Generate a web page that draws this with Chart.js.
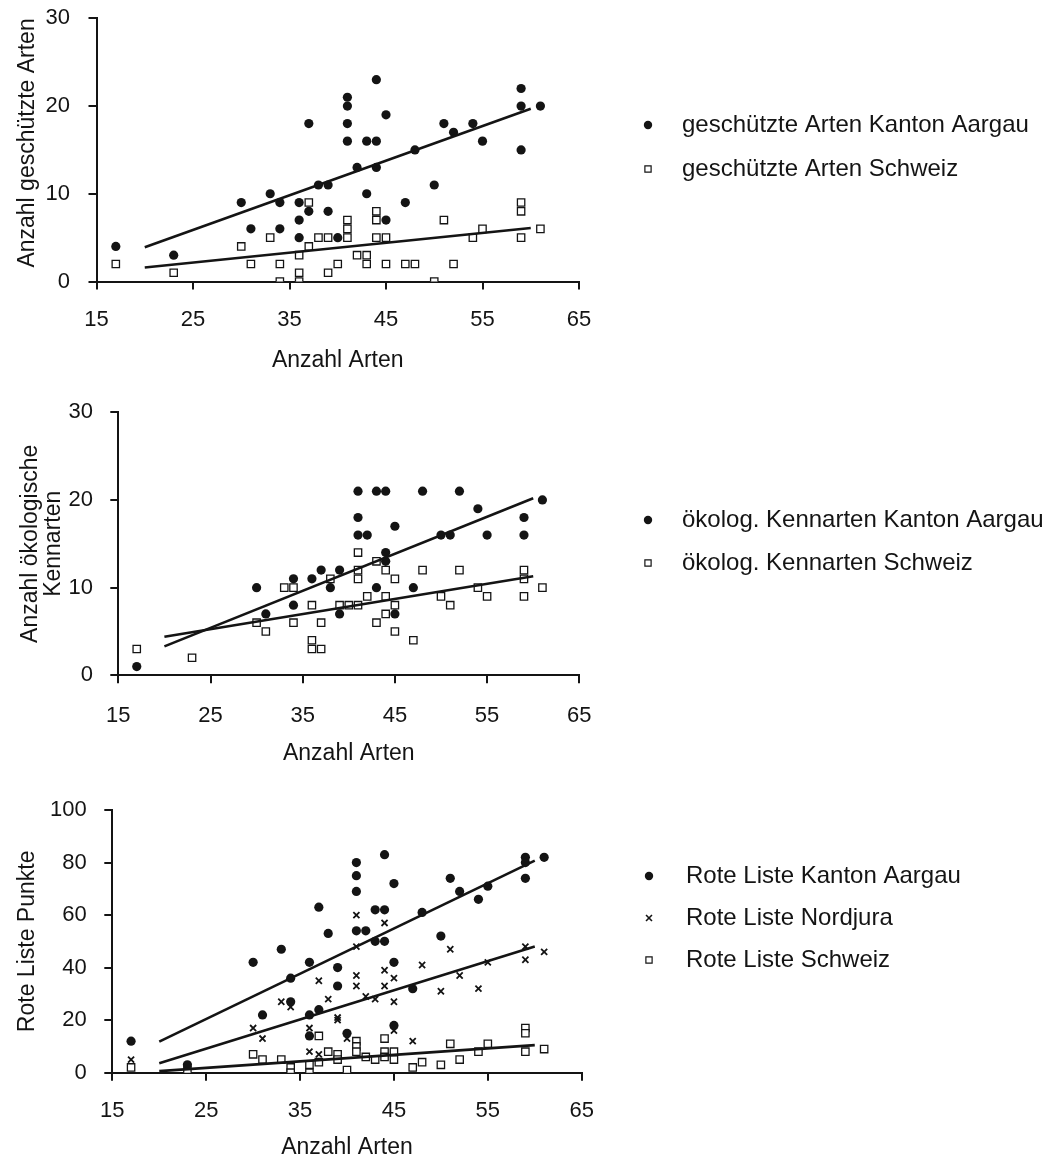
<!DOCTYPE html>
<html><head><meta charset="utf-8">
<script src="https://cdn.jsdelivr.net/npm/chart.js@4.4.0/dist/chart.umd.min.js"></script>
<style>
html,body{margin:0;padding:0;background:#fff;width:1048px;height:1166px;overflow:hidden}
canvas{position:absolute;left:0}
#c1{top:0}#c2{top:390px}#c3{top:780px}
</style></head><body>
<canvas id="c1" width="1048" height="385"></canvas>
<canvas id="c2" width="1048" height="385"></canvas>
<canvas id="c3" width="1048" height="386"></canvas>
<script>
// ---- tick labels ----
const xTicks = [15, 25, 35, 45, 55, 65];
const yTicksArten = [0, 10, 20, 30];
const yTicksPunkte = [0, 20, 40, 60, 80, 100];

// ---- chart 1: geschützte Arten ----
const geschAGx = [17,23,30,31,33,34,34,36,36,36,37,37,38,39,39,40,41,41,41,41,42,43,43,44,44,44,45,45,47,48,50,51,52,54,55,59,59,59,61];
const geschAGy = [4,3,9,6,10,9,6,9,7,5,18,8,11,11,8,5,21,20,18,16,13,16,10,23,16,13,19,7,9,15,11,18,17,18,16,22,20,15,20];
const geschCHx = [17,23,30,31,33,34,34,36,36,36,37,37,38,39,39,40,41,41,41,42,43,43,44,44,44,45,45,47,48,50,51,52,54,55,59,59,59,61];
const geschCHy = [2,1,4,2,5,2,0,3,1,0,9,4,5,5,1,2,7,6,5,3,3,2,8,7,5,5,2,2,2,0,7,2,5,6,9,8,5,6];
const fitX = [20, 60];
const fitGeschAGy = [3.9, 19.7];
const fitGeschCHy = [1.6, 6.1];

// ---- chart 2: ökologische Kennarten ----
const oekoAGx = [17,30,31,34,34,36,37,38,39,39,41,41,41,42,43,43,44,44,44,45,45,47,48,50,51,52,54,55,59,59,61];
const oekoAGy = [1,10,7,11,8,11,12,10,12,7,21,18,16,16,21,10,21,14,13,17,7,10,21,16,16,21,19,16,18,16,20];
const oekoCHx = [17,23,30,31,33,34,34,36,36,36,37,37,38,39,40,41,41,41,41,42,43,43,44,44,44,45,45,45,47,48,50,51,52,54,55,59,59,59,61];
const oekoCHy = [3,2,6,5,10,10,6,8,4,3,3,6,11,8,8,14,12,11,8,9,13,6,12,9,7,11,8,5,4,12,9,8,12,10,9,12,11,9,10];
const fitOekoAGy = [3.3, 20.2];
const fitOekoCHy = [4.4, 11.3];

// ---- chart 3: Rote Liste Punkte ----
const rlAGx = [17,23,30,31,33,34,34,36,36,36,37,37,38,39,39,40,41,41,41,41,42,43,43,44,44,44,45,45,45,47,48,50,51,52,54,55,59,59,59,61];
const rlAGy = [12,3,42,22,47,36,27,42,22,14,63,24,53,40,33,15,80,75,69,54,54,62,50,83,62,50,72,42,18,32,61,52,74,69,66,71,82,80,74,82];
const rlNJx = [17,30,31,33,34,36,36,37,37,38,39,39,40,41,41,41,41,42,43,44,44,44,45,45,45,47,48,50,51,52,54,55,59,59,61];
const rlNJy = [5,17,13,27,25,17,8,35,7,28,21,20,13,60,48,37,33,29,28,57,39,33,36,27,16,12,41,31,47,37,32,42,48,43,46];
const rlCHx = [17,23,30,31,33,34,34,36,36,37,37,38,39,39,40,41,41,41,42,43,44,44,44,45,45,47,48,50,51,52,54,55,59,59,59,61];
const rlCHy = [2,1,7,5,5,2,0,3,0,14,4,8,7,5,1,12,10,8,6,5,13,8,6,8,5,2,4,3,11,5,8,11,17,15,8,9];
const fitRLAGy = [11.8, 80.7];
const fitRLNJy = [3.6, 48.0];
const fitRLCHy = [0.6, 10.5];

// ---- styling ----
const INK = '#141414';
const FONT = "'Liberation Sans', Arial, Helvetica, sans-serif";
Chart.defaults.color = INK;

function pts(xs, ys) { return xs.map((x, i) => ({x: x, y: ys[i]})); }
const markerStyles = {
  dot:    {pointStyle: 'circle',   pointRadius: 4.6, backgroundColor: INK,    borderColor: INK, borderWidth: 0},
  square: {pointStyle: 'rect',     pointRadius: 5.2, backgroundColor: '#fff', borderColor: INK, borderWidth: 1.3},
  cross:  {pointStyle: 'crossRot', pointRadius: 4.3, backgroundColor: INK,    borderColor: INK, borderWidth: 1.8}
};
function series(label, xs, ys, kind) {
  const s = markerStyles[kind];
  return Object.assign({label: label, data: pts(xs, ys), showLine: false, xAxisID: 'x', yAxisID: 'y',
    pointHoverRadius: s.pointRadius}, s);
}
function fitLine(label, xs, ys) {
  return {label: label, fitLine: true, data: pts(xs, ys), showLine: true, pointRadius: 0, pointHoverRadius: 0,
    borderColor: INK, backgroundColor: INK, borderWidth: 2.6, order: -1, xAxisID: 'x', yAxisID: 'y', tension: 0};
}

// small legend symbols (drawn with Chart.js' own point helper)
function legendIcon(ps, r, lw, fill) {
  const c = document.createElement('canvas');
  c.width = 14; c.height = 14;
  const ctx = c.getContext('2d');
  ctx.fillStyle = fill; ctx.strokeStyle = INK; ctx.lineWidth = lw;
  Chart.helpers.drawPoint(ctx, {pointStyle: ps, radius: r, borderWidth: lw, rotation: 0}, 7, 7);
  return c;
}
const legendIcons = {
  circle: legendIcon('circle', 4.2, 0, INK),
  rect: legendIcon('rect', 4.4, 1.2, '#fff'),
  crossRot: legendIcon('crossRot', 4.2, 1.6, INK)
};

// widen the legend clip box to the canvas edge so long labels are not cut
const legendWiden = {
  id: 'legendWiden',
  afterLayout(chart) {
    const l = chart.legend;
    if (l) { l.right = chart.width; l.width = l.right - l.left; }
  }
};

function makeChart(id, g, datasets, yTicks, yMax, yTitle) {
  return new Chart(document.getElementById(id), {
    type: 'scatter',
    data: {datasets: datasets},
    plugins: [legendWiden],
    options: {
      responsive: false, animation: false, devicePixelRatio: 1, events: [],
      layout: {padding: {top: g.top, right: g.right, bottom: 0, left: 0}},
      plugins: {
        tooltip: {enabled: false},
        legend: {
          position: 'right', align: 'start', maxWidth: 200,
          title: {display: true, text: '', padding: {top: g.legendShift, bottom: 0}, font: {size: 10}},
          labels: {
            usePointStyle: true, pointStyleWidth: g.boxW, boxHeight: 6, padding: g.legendPad, color: INK,
            font: {family: FONT, size: 24},
            generateLabels: chart => {
              const items = Chart.defaults.plugins.legend.labels.generateLabels(chart);
              items.forEach(it => { if (legendIcons[it.pointStyle]) it.pointStyle = legendIcons[it.pointStyle]; });
              return items;
            },
            filter: (item, data) => !data.datasets[item.datasetIndex].fitLine
          }
        }
      },
      scales: {
        x: {
          type: 'linear', position: 'bottom', min: 15, max: 65,
          afterBuildTicks: s => { s.ticks = xTicks.map(v => ({value: v})); },
          afterFit: s => { s.height = g.xH; },
          border: {display: true, color: INK, width: 2},
          grid: {display: true, drawOnChartArea: false, drawTicks: true, tickLength: 8, color: INK, lineWidth: 2},
          ticks: {color: INK, font: {family: FONT, size: 22}, padding: g.xTickPad, maxRotation: 0, autoSkip: false},
          title: {display: true, text: 'Anzahl Arten', color: INK, font: {family: FONT, size: 23},
                  padding: {top: 0, bottom: g.xTitlePad}}
        },
        y: {
          type: 'linear', position: 'left', min: 0, max: yMax,
          afterBuildTicks: s => { s.ticks = yTicks.map(v => ({value: v})); },
          afterFit: s => { s.width = g.yW; s.paddingTop = 0; s.paddingBottom = 0; },
          border: {display: true, color: INK, width: 2},
          grid: {display: true, drawOnChartArea: false, drawTicks: true, tickLength: 8, color: INK, lineWidth: 2},
          ticks: {color: INK, font: {family: FONT, size: 22}, padding: g.yTickPad, autoSkip: false},
          title: {display: true, text: yTitle, color: INK, align: g.yTitleAlign || 'center',
                  font: {family: FONT, size: 23, lineHeight: g.yTitleLH || 1.2},
                  padding: {top: g.yTitlePad, bottom: 0}}
        },
        gap: {
          type: 'linear', position: 'right', display: true,
          grid: {display: false}, border: {display: false}, ticks: {display: false},
          afterFit: s => { s.width = g.gap; s.paddingTop = 0; s.paddingBottom = 0; }
        }
      }
    }
  });
}

// ---- layout (pixels) ----
const g1 = {top: 18.3, right: 242, gap: 27, yW: 96.5, xH: 103.5, xTickPad: 17, xTitlePad: 10.5,
            yTickPad: 18.5, yTitlePad: 14.2, yTitleAlign: 'end', legendPad: 20, boxW: 44, legendShift: 62.7};
const g2 = {top: 22.3, right: 241, gap: 27.7, yW: 118.3, xH: 99.7, xTickPad: 19, xTitlePad: 7.5,
            yTickPad: 17.3, yTitlePad: 19, yTitleLH: 1.0, legendPad: 19, boxW: 44, legendShift: 64.7};
const g3 = {top: 30, right: 242, gap: 24.3, yW: 112.3, xH: 93.3, xTickPad: 17, xTitlePad: 4.5,
            yTickPad: 17.5, yTitlePad: 14, legendPad: 18, boxW: 50, legendShift: 24};

makeChart('c1', g1, [
  series('geschützte Arten Kanton Aargau', geschAGx, geschAGy, 'dot'),
  series('geschützte Arten Schweiz', geschCHx, geschCHy, 'square'),
  fitLine('Trend Kanton Aargau', fitX, fitGeschAGy),
  fitLine('Trend Schweiz', fitX, fitGeschCHy)
], yTicksArten, 30, 'Anzahl geschützte Arten');

makeChart('c2', g2, [
  series('ökolog. Kennarten Kanton Aargau', oekoAGx, oekoAGy, 'dot'),
  series('ökolog. Kennarten Schweiz', oekoCHx, oekoCHy, 'square'),
  fitLine('Trend Kanton Aargau', fitX, fitOekoAGy),
  fitLine('Trend Schweiz', fitX, fitOekoCHy)
], yTicksArten, 30, ['Anzahl ökologische', 'Kennarten']);

makeChart('c3', g3, [
  series('Rote Liste Kanton Aargau', rlAGx, rlAGy, 'dot'),
  series('Rote Liste Nordjura', rlNJx, rlNJy, 'cross'),
  series('Rote Liste Schweiz', rlCHx, rlCHy, 'square'),
  fitLine('Trend Kanton Aargau', fitX, fitRLAGy),
  fitLine('Trend Nordjura', fitX, fitRLNJy),
  fitLine('Trend Schweiz', fitX, fitRLCHy)
], yTicksPunkte, 100, 'Rote Liste Punkte');
</script>
</body></html>
